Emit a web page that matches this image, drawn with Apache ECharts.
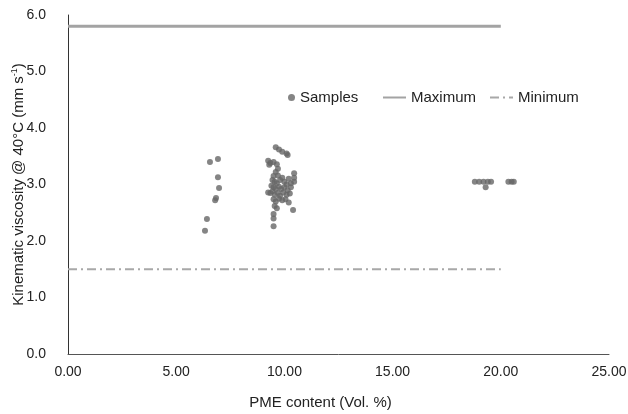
<!DOCTYPE html>
<html>
<head>
<meta charset="utf-8">
<title>Kinematic viscosity vs PME content</title>
<script src="https://cdn.jsdelivr.net/npm/echarts@6/dist/echarts.min.js"></script>
<style>
  html, body { margin: 0; padding: 0; background: #fff; }
  #chart { width: 628px; height: 414px; }
</style>
</head>
<body>
<div id="chart"></div>
<script>
// samples: [PME vol. %, viscosity mm2/s]
const groupLow = [
  [6.56, 3.40], [6.93, 3.45], [6.93, 3.13], [6.98, 2.94],
  [6.84, 2.76], [6.80, 2.72], [6.42, 2.39], [6.33, 2.18]
];

const groupMid = [
  [9.6, 3.66], [9.75, 3.62], [9.9, 3.58], [10.1, 3.55], [10.15, 3.52],
  [9.25, 3.42], [9.35, 3.38], [9.3, 3.35], [9.5, 3.40], [9.65, 3.36],
  [9.7, 3.28], [9.6, 3.22], [9.5, 3.15], [9.7, 3.16], [10.45, 3.20], [10.45, 3.12], [10.45, 3.05],
  [9.45, 3.08], [9.55, 3.05], [9.65, 3.02], [9.8, 3.08], [9.9, 3.12], [10.0, 3.05], [10.1, 3.00], [10.2, 3.10], [10.3, 3.02],
  [9.4, 2.98], [9.5, 2.95], [9.6, 2.92], [9.75, 2.96], [9.85, 2.92], [10.0, 2.95], [10.15, 2.90], [10.3, 2.95],
  [9.25, 2.86], [9.35, 2.85], [9.45, 2.88], [9.55, 2.82], [9.7, 2.85], [9.8, 2.80], [9.95, 2.86], [10.1, 2.82], [10.25, 2.84],
  [9.5, 2.74], [9.6, 2.70], [9.75, 2.75], [9.9, 2.72], [10.05, 2.74], [10.2, 2.68],
  [9.55, 2.62], [9.65, 2.58], [10.4, 2.55],
  [9.5, 2.48], [9.5, 2.40], [9.5, 2.26]
];

const groupHigh = [
  [18.8, 3.05], [19.0, 3.05], [19.2, 3.05], [19.4, 3.05], [19.55, 3.05], [19.3, 2.95],
  [20.35, 3.05], [20.5, 3.05], [20.6, 3.05]
];

const maxLimit = [[0, 5.8], [20, 5.8]];
const minLimit = [[0, 1.5], [20, 1.5]];

const font = 'Liberation Sans, Arial, sans-serif';
const maxColor = '#a3a3a3';
const minColor = '#a8a8a8';

const chart = echarts.init(document.getElementById('chart'));

chart.setOption({
  animation: false,
  grid: { left: 68, right: 19, top: 15, bottom: 60, outerBoundsMode: 'none' },
  legend: [
    {
      data: ['Samples'],
      left: 283,
      top: 85,
      itemWidth: 7,
      itemHeight: 7,
      itemGap: 6,
      textStyle: { fontFamily: font, fontSize: 15, color: '#222' }
    },
    {
      data: ['Maximum', 'Minimum'],
      left: 377,
      top: 85,
      itemWidth: 23,
      itemHeight: 7,
      itemGap: 13,
      itemStyle: { opacity: 0 },
      textStyle: { fontFamily: font, fontSize: 15, color: '#222' }
    }
  ],
  xAxis: {
    type: 'value',
    min: 0,
    max: 25,
    interval: 5,
    name: 'PME content (Vol. %)',
    nameLocation: 'middle',
    nameGap: 41,
    nameMoveOverlap: false,
    nameTextStyle: { fontFamily: font, fontSize: 15, color: '#222', padding: [0, 36, 0, 0] },
    axisLine: { lineStyle: { color: '#555', width: 1 } },
    axisTick: { show: false },
    splitLine: { show: false },
    axisLabel: {
      fontFamily: font, fontSize: 14, color: '#222', margin: 11,
      formatter: v => v.toFixed(2)
    }
  },
  yAxis: {
    type: 'value',
    min: 0,
    max: 6,
    interval: 1,
    name: 'Kinematic viscosity @ 40°C (mm s{sup|-1})',
    nameLocation: 'middle',
    nameGap: 41,
    nameMoveOverlap: false,
    nameTextStyle: {
      fontFamily: font, fontSize: 15, color: '#222',
      rich: {
        sup: { fontFamily: font, fontSize: 9, color: '#222', verticalAlign: 'top', padding: [0, 0, 8, 0] }
      }
    },
    axisLine: { show: true, lineStyle: { color: '#333', width: 1 } },
    axisTick: { show: false },
    splitLine: { show: false },
    axisLabel: {
      fontFamily: font, fontSize: 14, color: '#222', margin: 22,
      formatter: v => v.toFixed(1)
    }
  },
  series: [
    {
      name: 'Samples',
      type: 'scatter',
      symbol: 'circle',
      symbolSize: 6,
      itemStyle: { color: '#666' },
      data: [...groupLow, ...groupMid, ...groupHigh]
    },
    {
      name: 'Maximum',
      type: 'line',
      symbol: 'none',
      itemStyle: { color: maxColor },
      lineStyle: { color: maxColor, width: 3 },
      data: maxLimit
    },
    {
      name: 'Minimum',
      type: 'line',
      symbol: 'none',
      itemStyle: { color: minColor },
      lineStyle: { color: minColor, width: 2, type: [9, 4, 2, 4] },
      data: minLimit
    }
  ]
});
</script>
</body>
</html>
